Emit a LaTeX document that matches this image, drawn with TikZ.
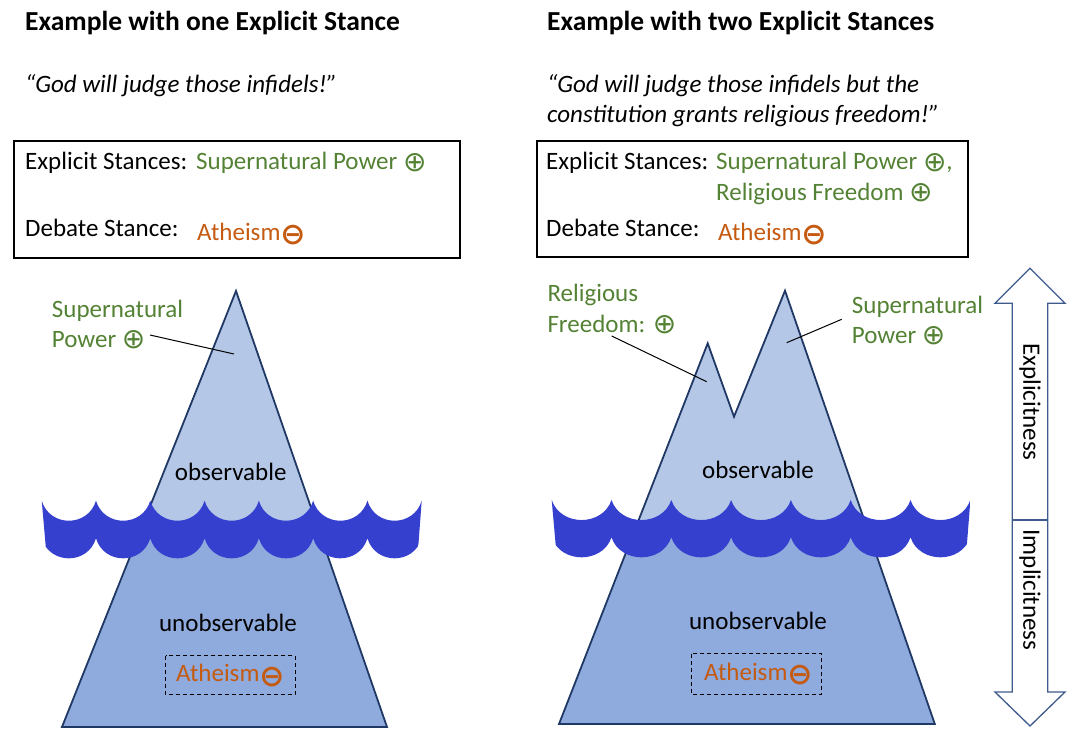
\documentclass[tikz,border=0pt]{standalone}
\usepackage{fontspec}
\setmainfont{Carlito}
\newfontfamily\symfont{DejaVu Sans}

\definecolor{stgreen}{HTML}{548235}
\definecolor{storange}{HTML}{C55A11}
\definecolor{iceup}{HTML}{B4C7E7}
\definecolor{icelow}{HTML}{8FAADC}
\definecolor{iceline}{HTML}{1F3864}
\definecolor{wavecol}{HTML}{3540CF}
\definecolor{arrowline}{HTML}{3F5A8C}

\newcommand\posmark{\raisebox{-1.5pt}{\fontsize{28}{30}\symfont ⊕}}
\newcommand\negmark{\raisebox{-4.5pt}{\fontsize{30}{30}\symfont\bfseries ⊖}}

\tikzset{
  txt/.style={inner sep=0pt, anchor=base west, font=\fontsize{25}{30}\selectfont},
  ctxt/.style={txt, anchor=base},
  titletxt/.style={txt, font=\fontsize{27.5}{33}\selectfont\bfseries},
  quotetxt/.style={txt, font=\fontsize{25}{30}\selectfont\itshape},
  posstance/.style={txt, text=stgreen},
  negstance/.style={txt, text=storange},
  stancebox/.style={draw=black, line width=1.1pt},
  hiddenbox/.style={draw=black, line width=1pt, dash pattern=on 4pt off 3pt},
  iceoutline/.style={draw=iceline, line width=1.8pt, line join=miter},
  pointer/.style={draw=black, line width=1pt},
  scalearrow/.style={draw=arrowline, line width=1.3pt, fill=white, line join=miter},
}

\begin{document}
\begin{tikzpicture}[x=1pt, y=-1pt]
\useasboundingbox (0,0) rectangle (1073,734);

% ---------- headings and example sentences ----------
\node[titletxt] (t1) at (25,30) {Example with one Explicit Stance};
\node[titletxt] (t2) at (547,30) {Example with two Explicit Stances};
\node[quotetxt] (q1) at (25,92) {“God will judge those infidels!”};
\node[quotetxt] (q2a) at (547,92) {“God will judge those infidels but the};
\node[quotetxt] (q2b) at (547,122) {constitution grants religious freedom!”};

% ---------- stance boxes ----------
\draw[stancebox] (14,141) rectangle (460,258);
\node[txt] (e1) at (25,169.5) {Explicit Stances:};
\node[posstance] (e1v) at (196,169.5) {Supernatural Power \posmark};
\node[txt] (d1) at (25,236) {Debate Stance:};
\node[negstance] (d1v) at (197,240) {Atheism\negmark};

\draw[stancebox] (537,141) rectangle (968,257);
\node[txt] (e2) at (546,169.5) {Explicit Stances:};
\node[posstance] (e2v) at (716,169.5) {Supernatural Power \posmark,};
\node[posstance] (e2w) at (716,200) {Religious Freedom \posmark};
\node[txt] (d2) at (546,236) {Debate Stance:};
\node[negstance] (d2v) at (718,240) {Atheism\negmark};

% ---------- iceberg with one peak ----------
\coordinate (a1) at (62,727);
\coordinate (a2) at (236,291);
\coordinate (a3) at (387,727);
\fill[icelow] (a1) -- (a2) -- (a3) -- cycle;
\begin{scope}
  \clip (0,0) rectangle (1073,530);
  \fill[iceup] (a1) -- (a2) -- (a3) -- cycle;
\end{scope}
\draw[iceoutline] (a1) -- (a2) -- (a3) -- cycle;

% ---------- iceberg with two peaks ----------
\coordinate (b1) at (559,724);
\coordinate (b2) at (707.7,343.3);
\coordinate (b3) at (734,416.7);
\coordinate (b4) at (785,290.7);
\coordinate (b5) at (934.8,724);
\fill[icelow] (b1) -- (b2) -- (b3) -- (b4) -- (b5) -- cycle;
\begin{scope}
  \clip (0,0) rectangle (1073,530);
  \fill[iceup] (b1) -- (b2) -- (b3) -- (b4) -- (b5) -- cycle;
\end{scope}
\draw[iceoutline] (b1) -- (b2) -- (b3) -- (b4) -- (b5) -- cycle;

% ---------- water surface ----------
\begin{scope}
  \clip (40.8,490) -- (422.5,490) -- (417.1,562) -- (47.1,562) -- cycle;
  \fill[wavecol] (41.7,500.7)
    \foreach \k in {0,...,6} { .. controls ({41.7+54.29*\k+8},527.4) and ({41.7+54.29*(\k+1)-8},527.4) .. ({41.7+54.29*(\k+1)},500.7) }
    -- (421.7,538.3)
    \foreach \k in {6,5,...,0} { .. controls ({41.7+54.29*(\k+1)-8},565) and ({41.7+54.29*\k+8},565) .. ({41.7+54.29*\k},538.3) }
    -- cycle;
\end{scope}
\begin{scope}
  \clip (550.8,490) -- (971.2,490) -- (965.5,562) -- (557.2,562) -- cycle;
  \fill[wavecol] (551.7,500)
    \foreach \k in {0,...,6} { .. controls ({551.7+59.8*\k+9},526.7) and ({551.7+59.8*(\k+1)-9},526.7) .. ({551.7+59.8*(\k+1)},500) }
    -- (970.3,537.3)
    \foreach \k in {6,5,...,0} { .. controls ({551.7+59.8*(\k+1)-9},564) and ({551.7+59.8*\k+9},564) .. ({551.7+59.8*\k},537.3) }
    -- cycle;
\end{scope}

% ---------- iceberg labels ----------
\node[ctxt] (o1) at (230.7,480) {observable};
\node[ctxt] (u1) at (228,631) {unobservable};
\draw[hiddenbox] (165.7,655.5) rectangle (295,694.5);
\node[negstance] (h1) at (176,681.7) {Atheism\negmark};

\node[ctxt] (o2) at (758,478) {observable};
\node[ctxt] (u2) at (758,629) {unobservable};
\draw[hiddenbox] (691.7,653.5) rectangle (821.7,694.3);
\node[negstance] (h2) at (704,680) {Atheism\negmark};

% peak annotations
\node[posstance] (s1a) at (51.7,317.3) {Supernatural};
\node[posstance] (s1b) at (51.7,347.3) {Power \posmark};
\coordinate (p1s) at (150,335);
\coordinate (p1e) at (234,354);
\draw[pointer] (p1s) -- (p1e);

\node[posstance] (r2a) at (547.3,301.7) {Religious};
\node[posstance] (r2b) at (547.3,332.3) {Freedom: \posmark};
\coordinate (p2s) at (611.7,336);
\coordinate (p2e) at (706.7,381.7);
\draw[pointer] (p2s) -- (p2e);

\node[posstance] (s2a) at (851.7,313.3) {Supernatural};
\node[posstance] (s2b) at (851.7,343.3) {Power \posmark};
\coordinate (p3s) at (841.7,319.3);
\coordinate (p3e) at (786.7,342.7);
\draw[pointer] (p3s) -- (p3e);

% ---------- explicitness scale ----------
\draw[scalearrow] (1030,268.3) -- (1065,303.3) -- (1047.7,303.3) -- (1047.7,692)
  -- (1065,692) -- (1030,726) -- (995,692) -- (1012.3,692)
  -- (1012.3,303.3) -- (995,303.3) -- cycle;
\coordinate (divl) at (1012.3,520);
\coordinate (divr) at (1047.7,520);
\draw[arrowline, line width=1.3pt] (divl) -- (divr);
\node[rotate=-90, inner sep=0pt, font=\fontsize{25}{30}\selectfont] (ex) at (1030,402) {Explicitness};
\node[rotate=-90, inner sep=0pt, font=\fontsize{25}{30}\selectfont] (im) at (1030,590) {Implicitness};
\end{tikzpicture}
\end{document}
